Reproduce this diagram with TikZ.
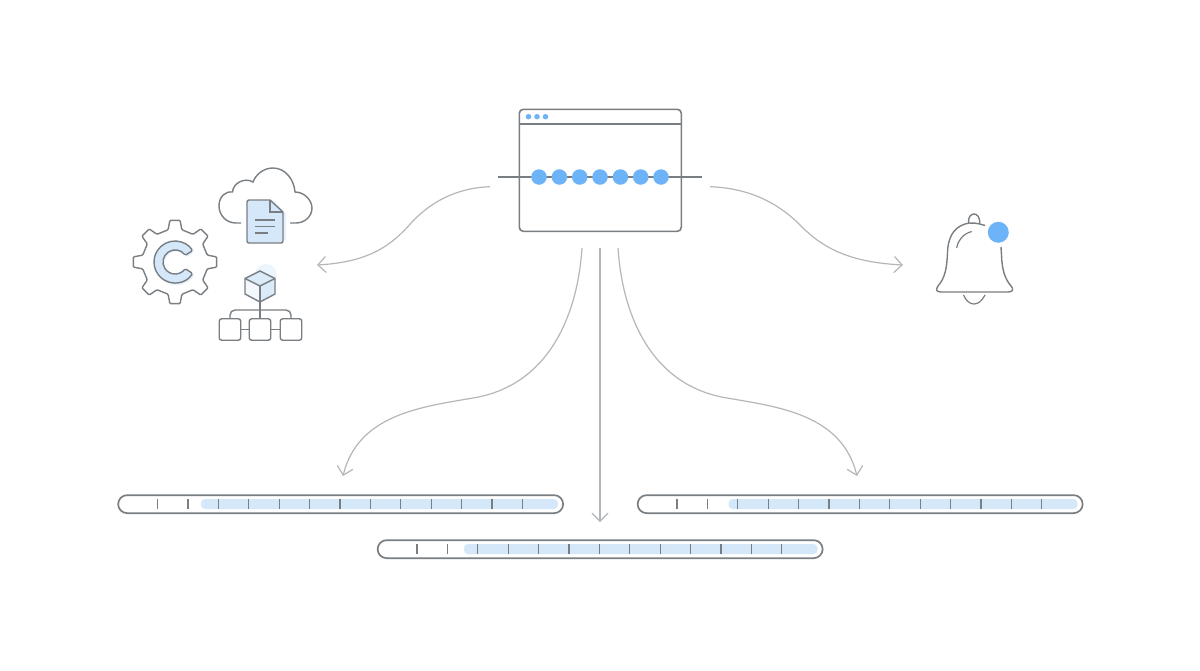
\documentclass[tikz,border=0pt]{standalone}
\usetikzlibrary{arrows.meta}
\definecolor{ink}{HTML}{797E83}
\definecolor{wire}{HTML}{B4B7BA}
\definecolor{dotblue}{HTML}{6DB3F8}
\definecolor{pale}{HTML}{D4E8F9}
\tikzset{
  x=1pt,y=-1pt,
  line join=round,
  outline/.style={draw=ink,line width=1.6pt},
  thin outline/.style={draw=ink,line width=1.4pt},
  wireline/.style={draw=wire,line width=1.2pt,-{Straight Barb[length=8pt,width=16pt,line width=1.2pt]}},
  track/.style={draw=ink,line width=1.7pt,rectangle,rounded corners=9pt,minimum height=18pt,inner sep=0pt,fill=white},
  tickmark/.style={draw=ink,line width=1.2pt},
  band/.style={fill=pale,rounded corners=4pt},
  bead/.style={circle,fill=dotblue,inner sep=0pt,minimum size=15.5pt},
  tinybead/.style={circle,fill=dotblue,inner sep=0pt,minimum size=5.5pt},
}
\newcommand{\trackbar}[4]{% name, left x, top y, band start offset
  \node[track,minimum width=445pt,anchor=north west] (#1) at (#2,#3) {};
  \begin{scope}[shift={(#2,#3)}]
    \fill[band] (#4,4.7) -- (440.7,4.7) -- (440.7,14.7) -- (#4,14.7) -- cycle;
    \foreach \i in {0,...,12}{\draw[tickmark] ({40.2+30.4*\i},4.7) -- ({40.2+30.4*\i},14.7);}
  \end{scope}}
\begin{document}
\begin{tikzpicture}
\useasboundingbox (0,0) rectangle (1200,670);
\fill[white] (0,0) rectangle (1200,670);

% window
\node[outline,rectangle,rounded corners=4pt,minimum width=162pt,minimum height=122pt,inner sep=0pt,anchor=north west,fill=white] (window) at (518.5,108.5) {};
\coordinate (titleL) at (window.west |- 0,124); \coordinate (titleR) at (window.east |- 0,124);
\draw[outline] (titleL) -- (titleR);
\foreach \n/\x in {a/528.5,b/537,c/545.5}{\node[tinybead] (win\n) at (\x,116.7) {};}
\coordinate (tlA) at (498,177); \coordinate (tlB) at (702,177);
\draw[outline] (tlA) -- (tlB);
\foreach \n/\x in {1/539,2/559.4,3/579.7,4/600,5/620.4,6/640.7,7/661}{\node[bead] (bead\n) at (\x,177) {};}

% connectors
\coordinate (cL) at (490,186.7); \coordinate (tL) at (317,265);
\coordinate (cR) at (710,186.7); \coordinate (tR) at (903,265);
\coordinate (cA) at (582,248); \coordinate (tA) at (343,476);
\coordinate (cB) at (600,248); \coordinate (tB) at (600,522);
\coordinate (cC) at (618,248); \coordinate (tC) at (857,476);
\draw[wireline] (cL) .. controls (455,188) and (430,203) .. (412,222) .. controls (392,245) and (370,262) .. (tL);
\draw[wireline] (cR) .. controls (749,188) and (777,203) .. (797,222) .. controls (819,245) and (844,262) .. (tR);
\draw[wireline] (cA) .. controls (578,310) and (552,385) .. (473,398) .. controls (420,407) and (358,415) .. (tA);
\draw[wireline] (cB) -- (tB);
\draw[wireline] (cC) .. controls (622,310) and (648,385) .. (727,398) .. controls (780,407) and (842,415) .. (tC);

% cloud
\draw[outline,line width=1.4pt] (241,223) -- (236,223) .. controls (226,223) and (219,215) .. (219,206)
  .. controls (219,197) and (225,191) .. (232.5,192)
  .. controls (233,183) and (245,177) .. (253,182)
  .. controls (256,174) and (264,168) .. (273,168)
  .. controls (285,168) and (294,179) .. (295,192)
  .. controls (305,192) and (312,201) .. (312,208)
  .. controls (312,217) and (304,223) .. (296,223) -- (290,223);
% document
\fill[pale!60] (272,199) -- (286,214) -- (286,240) -- (280,240) -- cycle;
\draw[thin outline,fill=pale] (249,200) -- (270,200) -- (283,212) -- (283,241) .. controls (283,242.5) and (282,243) .. (281,243) -- (249,243) .. controls (248,243) and (247,242.5) .. (247,241) -- (247,202) .. controls (247,201) and (248,200) .. (249,200) -- cycle;
\draw[thin outline] (270,200) -- (270,212) -- (283,212);
\draw[draw=ink,line width=1.1pt] (255,220) -- (275,220) (255,226.7) -- (275,226.7) (255,233) -- (268,233);

% gear
\begin{scope}[shift={(175,262)}]
  \draw[thin outline,rounded corners=1pt,fill=white] (-12:33)
    \foreach \a in {0,45,...,315}{ -- (\a-12:33) -- (\a-7:42) -- (\a+7:42) -- (\a+12:33)} -- cycle;
  % C
  \begin{scope}[shift={(1.5,1.5)}]
    \fill[pale!60] (33:21.5) arc (33:327:21.5) -- (327:12) arc (327:33:12) -- cycle;
  \end{scope}
  \draw[thin outline,fill=pale,rounded corners=1.5pt] (33:21) arc (33:327:21) -- (327:12) arc (327:33:12) -- cycle;
\end{scope}

% cube
\fill[pale!45] (266,275) circle [radius=11];
\fill[pale!30] (245,278.5) -- (260,286) -- (260,302) -- (245,294) -- cycle;
\fill[pale!85] (260,271) -- (275,278.5) -- (275,294) -- (260,302) -- (260,286) -- (245,278.5) -- cycle;
\draw[thin outline] (260,271) -- (275,278.5) -- (275,294) -- (260,302) -- (245,294) -- (245,278.5) -- cycle;
\coordinate (cubeC) at (260,286);
\draw[thin outline] (245,278.5) -- (cubeC) -- (275,278.5);

% tree
\node[thin outline,rectangle,rounded corners=2.5pt,minimum size=21.5pt,inner sep=0pt,fill=white] (boxA) at (230,329.5) {};
\node[thin outline,rectangle,rounded corners=2.5pt,minimum size=21.5pt,inner sep=0pt,fill=white] (boxB) at (260,329.5) {};
\node[thin outline,rectangle,rounded corners=2.5pt,minimum size=21.5pt,inner sep=0pt,fill=white] (boxC) at (291,329.5) {};
\draw[thin outline] (cubeC) -- (boxB.north);
\draw[thin outline] (boxA) -- (boxB);
\draw[thin outline] (boxB) -- (boxC);
\draw[thin outline,rounded corners=5pt] (boxA.north) -- (230,310) -- (291,310) -- (boxC.north);

% bell
\draw[outline,line width=1.4pt] (968.5,223) .. controls (968,217) and (971,214) .. (974,214) .. controls (977,214) and (980,217) .. (979.8,223.5);
\draw[outline,line width=1.4pt] (985,225.5) .. controls (978,223) and (970,222) .. (965,224) .. controls (952,228) and (948,240) .. (947.5,252)
  .. controls (947,268) and (945,278) .. (938,286) .. controls (935,290) and (937,292) .. (941,292)
  -- (1008,292) .. controls (1013,292) and (1014,289) .. (1011,286)
  .. controls (1005,279) and (1002,270) .. (1001.5,255) -- (1001,247);
\draw[outline,line width=1.2pt] (956.7,248) .. controls (958,240) and (963,234) .. (971.7,231.5);
\draw[outline,line width=1.2pt] (963.5,295) .. controls (966,301) and (970,304) .. (974,304) .. controls (978,304) and (982,301) .. (985,295);
\node[circle,fill=dotblue,inner sep=0pt,minimum size=21pt] (belldot) at (998.3,232.3) {};

% tracks
\trackbar{barL}{117.3}{494.3}{83.7}
\trackbar{barR}{636.8}{494.3}{91.7}
\trackbar{barM}{376.8}{539.3}{87.2}
\end{tikzpicture}
\end{document}
